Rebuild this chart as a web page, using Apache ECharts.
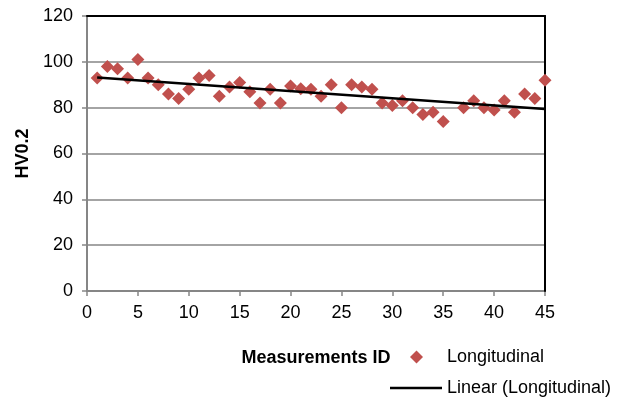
<!DOCTYPE html>
<html><head><meta charset="utf-8">
<script src="https://cdn.jsdelivr.net/npm/echarts@6/dist/echarts.min.js"></script>
<style>html,body{margin:0;padding:0;background:#fff}#c{width:625px;height:399px}</style>
</head><body><div id="c"></div>
<script>
const ids = [1,2,3,4,5,6,7,8,9,10,11,12,13,14,15,16,17,18,19,20,21,22,23,24,25,26,27,28,29,30,31,32,33,34,35,37,38,39,40,41,42,43,44,45];
const longitudinal = [93,98,97,93,101,93,90,86,84,88,93,94,85,89,91,87,82,88,82,89.5,88.3,88,85,90,80,90,89,88,82,81,83,80,77,78,74,80,83,80,79,83,78,86,84,92];
const xTicks = {min:0, max:45, interval:5};
const yTicks = {min:0, max:120, interval:20};

// linear trendline (least squares) from the data
const n = ids.length;
let sx=0, sy=0, sxx=0, sxy=0;
for (let i=0;i<n;i++){sx+=ids[i];sy+=longitudinal[i];sxx+=ids[i]*ids[i];sxy+=ids[i]*longitudinal[i];}
const slope = (n*sxy - sx*sy)/(n*sxx - sx*sx);
const icpt = (sy - slope*sx)/n;
const xFirst = Math.min(...ids), xLast = Math.max(...ids);
const trend = [[xFirst, icpt+slope*xFirst],[xLast, icpt+slope*xLast]];

const font = 'Liberation Sans, Arial, sans-serif';
const gray = '#868686';
const legendText = {fontFamily:font, fontSize:18, color:'#000'};
const chart = echarts.init(document.getElementById('c'));
chart.setOption({
  animation:false,
  textStyle:{fontFamily:font},
  grid:{left:87, right:80, top:16, bottom:108},
  xAxis:[{
    type:'value', min:xTicks.min, max:xTicks.max, interval:xTicks.interval,
    name:'Measurements ID', nameLocation:'middle', nameGap:58,
    nameTextStyle:{fontFamily:font, fontSize:18, fontWeight:'bold', color:'#000'},
    axisLine:{show:true, onZero:false, lineStyle:{color:gray, width:2}},
    axisTick:{show:true, length:5, lineStyle:{color:gray, width:1.5}},
    axisLabel:{fontFamily:font, fontSize:18, color:'#000', margin:13},
    splitLine:{show:false}, z:2
  },{
    type:'value', position:'top', min:xTicks.min, max:xTicks.max,
    axisLine:{show:true, onZero:false, lineStyle:{color:'#000', width:2}},
    axisTick:{show:false}, axisLabel:{show:false}, splitLine:{show:false}, z:3
  }],
  yAxis:[{
    type:'value', min:yTicks.min, max:yTicks.max, interval:yTicks.interval,
    name:'HV0.2', nameLocation:'middle', nameGap:54,
    nameTextStyle:{fontFamily:font, fontSize:18, fontWeight:'bold', color:'#000'},
    axisLine:{show:true, onZero:false, lineStyle:{color:gray, width:2}},
    axisTick:{show:true, length:5, lineStyle:{color:gray, width:1.5}},
    axisLabel:{fontFamily:font, fontSize:18, color:'#000', margin:14},
    splitLine:{show:true, lineStyle:{color:gray, width:1.5}}, z:2
  },{
    type:'value', position:'right', min:yTicks.min, max:yTicks.max,
    axisLine:{show:true, onZero:false, lineStyle:{color:'#000', width:2}},
    axisTick:{show:false}, axisLabel:{show:false}, splitLine:{show:false}, z:3
  }],
  legend:[{
    orient:'vertical', left:410, top:348, padding:0,
    itemWidth:13, itemHeight:13,
    textStyle:Object.assign({padding:[0,0,0,19]}, legendText),
    data:[{name:'Longitudinal', icon:'diamond', itemStyle:{color:'#C0504D', opacity:1}}]
  },{
    orient:'vertical', left:390, top:379, padding:0,
    itemWidth:52, itemHeight:18,
    textStyle:legendText,
    data:[{name:'Linear (Longitudinal)', icon:'path://M0,0 L52,0 L52,2.5 L0,2.5 Z', itemStyle:{color:'#000', borderWidth:0}}]
  }],
  series:[{
    name:'Longitudinal', type:'scatter', symbol:'diamond', symbolSize:13,
    itemStyle:{color:'#C0504D', opacity:1},
    data: ids.map((x,i)=>[x, longitudinal[i]]), z:3
  },{
    name:'Linear (Longitudinal)', type:'line', symbol:'none',
    lineStyle:{color:'#000', width:2.5}, itemStyle:{color:'#000'},
    data: trend, z:4
  }]
});
</script></body></html>
